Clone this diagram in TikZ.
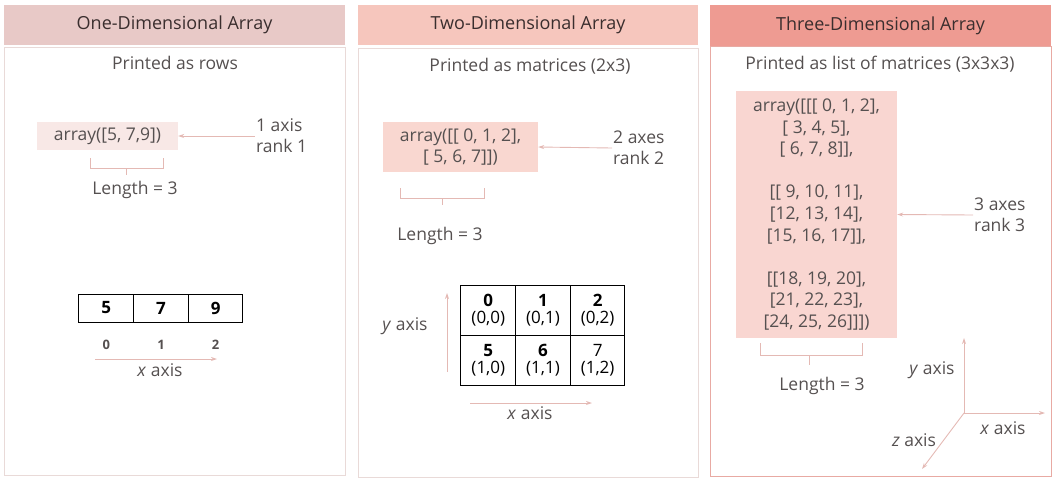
\documentclass[tikz,border=0pt]{standalone}
\usepackage{fontspec}
\setmainfont{Open Sans}
\usetikzlibrary{positioning,arrows.meta}

\definecolor{headone}{HTML}{E8C9C7}
\definecolor{headtwo}{HTML}{F6C6BD}
\definecolor{headthree}{HTML}{EE9B92}
\definecolor{codeone}{HTML}{F8E8E6}
\definecolor{codetwo}{HTML}{F9D7D0}
\definecolor{codethree}{HTML}{F9D6D1}
\definecolor{frameone}{HTML}{E9DAD8}
\definecolor{framethree}{HTML}{E8AAA3}
\definecolor{pinkline}{HTML}{E4B9B4}
\definecolor{bodytext}{HTML}{555050}
\definecolor{headtext}{HTML}{3A2E2E}

\begin{document}
\begin{tikzpicture}[x=1pt, y=-1pt, >={Stealth[length=6pt,width=4pt]}]
    \tikzset{head/.style = {minimum width=341pt, minimum height=40pt, inner sep=0pt,
                 text=headtext, font=\fontsize{18}{21}\selectfont},
             label/.style = {text=bodytext, font=\fontsize{17.5}{21}\selectfont, inner sep=1pt},
             code/.style = {text=bodytext, font=\fontsize{17.5}{21.6}\selectfont, align=center, inner sep=0pt},
             cell/.style = {draw=black, line width=1pt, minimum width=54.67pt, inner sep=0pt,
                 font=\fontsize{17}{18}\selectfont\bfseries, text=black},
             pinkarrow/.style = {->, draw=pinkline, line width=0.9pt},
             brace/.style = {draw=pinkline, line width=0.9pt}}

    \useasboundingbox (0,0) rectangle (1057,483);

    % panel frames
    \draw[frameone, line width=1pt] (4,47) rectangle (345,475);
    \draw[frameone, line width=1pt] (358,48) rectangle (698,477);
    \draw[framethree, line width=1pt] (710,46) rectangle (1051,476);

    % headers
    \node[head, fill=headone] (h1) at (174.5,25) {One-Dimensional Array};
    \node[head, fill=headtwo, minimum width=340pt] (h2) at (528,25) {Two-Dimensional Array};
    \node[head, fill=headthree, minimum height=41pt] (h3) at (880.5,25.5) {Three-Dimensional Array};

    \node[label] (p1) at (175,63) {Printed as rows};
    \node[label] (p2) at (530,66) {Printed as matrices (2x3)};
    \node[label] (p3) at (880,64) {Printed as list of matrices (3x3x3)};

    % one-dimensional
    \node[code, fill=codeone, minimum width=141pt, minimum height=28pt] (a1) at (107.5,136) {array([5, 7,9])};
    \node[label, align=left, anchor=west] (r1) at (255,136) {1 axis\\rank 1};
    \draw[pinkarrow] (r1.west) -- (a1.east);
    \draw[brace] (90,158) -- (90,168) -- (163,168) -- (163,158);
    \draw[brace] (126.5,168) -- (126.5,175);
    \node[label] (l1) at (135,190) {Length = 3};

    \foreach \v [count=\i from 0] in {5,7,9}
        \node[cell, minimum height=28pt] (c\i) at (106.3+54.67*\i,308) {\v};
    \foreach \i in {0,1,2}
        \node[text=bodytext, font=\fontsize{13}{15}\selectfont\bfseries] (n\i) at (106.3+54.67*\i,345) {\i};
    \coordinate (xa) at (95,359);
    \coordinate (xb) at (217,359);
    \draw[pinkarrow] (xa) -- (xb);
    \node[label] (x1) at (160,370) {\textit{x} axis};

    % two-dimensional
    \node[code, fill=codetwo, minimum width=155pt, minimum height=50pt] (a2) at (460.5,147) {array([[ 0, 1, 2],\\{[} 5, 6, 7]])};
    \node[label, align=left, anchor=west] (r2) at (612,148) {2 axes\\rank 2};
    \draw[pinkarrow] (r2.west) -- (a2.east);
    \draw[brace] (400,188) -- (400,198) -- (484,198) -- (484,188);
    \draw[brace] (442,198) -- (442,205);
    \node[label] (l2) at (440,236) {Length = 3};

    \foreach \v/\p [count=\i from 0] in {0/{(0,0)},1/{(0,1)},2/{(0,2)}}
        \node[cell, minimum height=50pt, align=center] (t\i) at (488.3+54.67*\i,310) {\v\\[-1pt]{\mdseries\p}};
    \foreach \v/\p [count=\i from 0] in {5/{(1,0)},6/{(1,1)},{\mdseries 7}/{(1,2)}}
        \node[cell, minimum height=50pt, align=center] (b\i) at (488.3+54.67*\i,360) {\v\\[-1pt]{\mdseries\p}};
    \coordinate (ya) at (447,372);
    \coordinate (yb) at (447,293);
    \draw[pinkarrow] (ya) -- (yb);
    \node[label] (y2) at (405,326) {\textit{y} axis};
    \coordinate (xc) at (470,403);
    \coordinate (xd) at (592,403);
    \draw[pinkarrow] (xc) -- (xd);
    \node[label] (x2) at (530,413) {\textit{x} axis};

    % three-dimensional
    \node[code, fill=codethree, minimum width=161pt, minimum height=247pt] (a3) at (816.5,214.5)
        {array([[[ 0, 1, 2],\\{[} 3, 4, 5],\\{[} 6, 7, 8]],\\[21.6pt]
         {[}[ 9, 10, 11],\\{[}12, 13, 14],\\{[}15, 16, 17]],\\[21.6pt]
         {[}[18, 19, 20],\\{[}21, 22, 23],\\{[}24, 25, 26]]])};
    \node[label, align=left, anchor=west] (r3) at (973,215) {3 axes\\rank 3};
    \draw[pinkarrow] (r3.west) -- (a3.east);
    \draw[brace] (760,343) -- (760,355) -- (862,355) -- (862,343);
    \draw[brace] (809,355) -- (809,365);
    \node[label] (l3) at (822,386) {Length = 3};

    \coordinate (o) at (964,413);
    \coordinate (yt) at (964,338);
    \coordinate (xt) at (1045,413);
    \coordinate (zt) at (922,469);
    \draw[pinkarrow] (o) -- (yt);
    \draw[pinkarrow] (o) -- (xt);
    \draw[pinkarrow] (o) -- (zt);
    \node[label] (y3) at (932,370) {\textit{y} axis};
    \node[label] (x3) at (1003,428) {\textit{x} axis};
    \node[label] (z3) at (914,440) {\textit{z} axis};
\end{tikzpicture}
\end{document}
